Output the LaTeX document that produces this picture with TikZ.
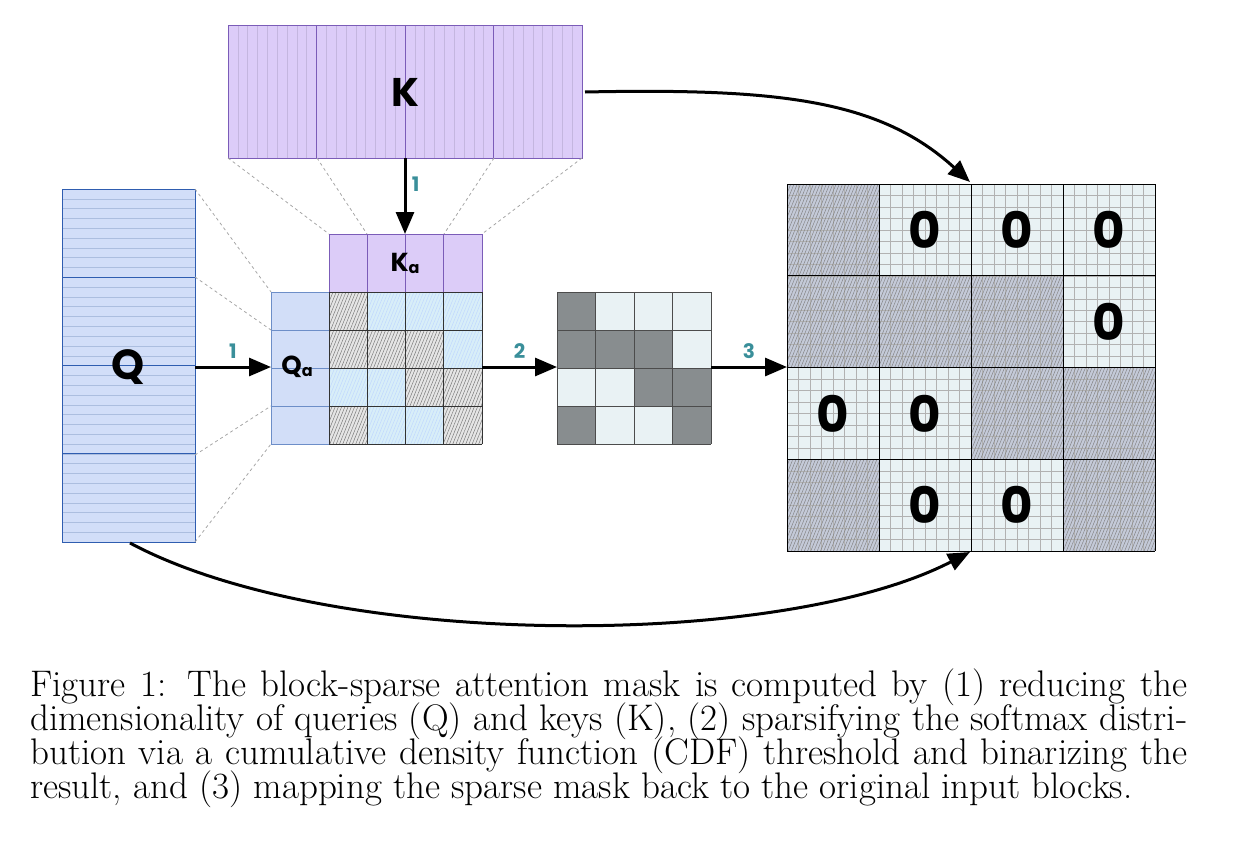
\documentclass[tikz,border=0pt]{standalone}
\usepackage{fontspec}
\newfontfamily\pop{Poppins}
\usetikzlibrary{patterns.meta,arrows.meta}
\definecolor{kfill}{HTML}{DCCCF8}
\definecolor{kline}{HTML}{7B5CB8}
\definecolor{qfill}{HTML}{D2DEF8}
\definecolor{qline}{HTML}{2F5DB0}
\definecolor{lblue}{HTML}{D8EEF8}
\definecolor{dgray}{HTML}{888D8F}
\definecolor{lgray}{HTML}{E9F2F4}
\definecolor{teal}{HTML}{3A8F9A}
\definecolor{dblue}{HTML}{C4CAD8}
\tikzset{
 hatch/.style={pattern={Lines[angle=68,distance=3pt,line width=0.45pt]},pattern color=#1},
 big/.style={-{Triangle[length=22pt,width=18pt]},line width=3pt},
 num/.style={text=teal,font=\pop\bfseries\fontsize{20}{20}\selectfont},
 proj/.style={gray!70,dashed,line width=0.8pt},
 zero/.style={font=\pop\bfseries\fontsize{50}{50}\selectfont}
}
\begin{document}
\begin{tikzpicture}[x=1pt,y=-1pt]
\useasboundingbox (0,0) rectangle (1234,844);
% K
\fill[kfill] (228,25) rectangle (582,158);
\foreach \i in {0,...,35}{\draw[kline!45,line width=0.4pt] ({228+\i*354/36},25) -- ({228+\i*354/36},158);}
\foreach \i in {0,...,4}{\draw[kline,line width=1pt] ({228+\i*88.5},25) -- ({228+\i*88.5},158);}
\draw[kline,line width=1pt] (228,25) rectangle (582,158);
\node[font=\pop\bfseries\fontsize{40}{40}\selectfont] (K) at (405,92) {K};
\coordinate (Kb) at (405,158);
% Q
\fill[qfill] (62,189) rectangle (195,542);
\foreach \i in {0,...,35}{\draw[qline!40,line width=0.4pt] (62,{189+\i*353/36}) -- (195,{189+\i*353/36});}
\foreach \i in {0,...,4}{\draw[qline,line width=1pt] (62,{189+\i*88.25}) -- (195,{189+\i*88.25});}
\draw[qline,line width=1pt] (62,189) rectangle (195,542);
\node[font=\pop\bfseries\fontsize{42}{42}\selectfont] (Q) at (128,367) {Q};
% dashed projections
\draw[proj] (228,158) -- (329,234);
\draw[proj] (317,158) -- (367,234);
\draw[proj] (494,158) -- (444,234);
\draw[proj] (582,158) -- (482,234);
\draw[proj] (195,189) -- (271,292);
\draw[proj] (195,277) -- (271,330);
\draw[proj] (195,455) -- (271,406);
\draw[proj] (195,542) -- (271,444);
% Ka, Qa
\filldraw[fill=kfill,draw=kline,line width=0.8pt] (329,234) rectangle (482,292);
\foreach \i in {1,2,3}{\draw[kline,line width=0.8pt] ({329+\i*38.25},234) -- ({329+\i*38.25},292);}
\node[font=\pop\bfseries\fontsize{26}{26}\selectfont] (Ka) at (405,263) {K\raisebox{-2pt}{\fontsize{16}{16}\selectfont a}};
\filldraw[fill=qfill,draw=qline!70,line width=0.8pt] (271,292) rectangle (329,444);
\foreach \i in {1,2,3}{\draw[qline!70,line width=0.8pt] (271,{292+\i*38}) -- (329,{292+\i*38});}
\node[font=\pop\bfseries\fontsize{26}{26}\selectfont] (Qa) at (297,367) {Q\raisebox{-2pt}{\fontsize{16}{16}\selectfont a}};
% attention & binary matrices
\foreach \r/\row in {0/{1,0,0,0},1/{1,1,1,0},2/{0,0,1,1},3/{1,0,0,1}}{
 \foreach \v [count=\c from 0] in \row {
  \pgfmathsetmacro\xa{329+\c*38.25}\pgfmathsetmacro\ya{292+\r*38}
  \pgfmathsetmacro\xb{557+\c*38.5}
  \pgfmathsetmacro\xc{787+\c*92}\pgfmathsetmacro\yc{184+\r*91.75}
  \ifnum\v=1
   \fill[gray!20] (\xa,\ya) rectangle ++(38.25,38);
   \fill[hatch=black!55] (\xa,\ya) rectangle ++(38.25,38);
   \fill[dgray] (\xb,\ya) rectangle ++(38.5,38);
   \fill[dblue] (\xc,\yc) rectangle ++(92,91.75);
  \else
   \fill[lblue] (\xa,\ya) rectangle ++(38.25,38);
   \fill[hatch=cyan!35!blue!25] (\xa,\ya) rectangle ++(38.25,38);
   \fill[lgray] (\xb,\ya) rectangle ++(38.5,38);
   \fill[lgray] (\xc,\yc) rectangle ++(92,91.75);
  \fi
 }}
\foreach \i in {0,...,4}{
 \draw[black!80,line width=0.8pt] ({329+\i*38.25},292) -- ({329+\i*38.25},444);
 \draw[black!80,line width=0.8pt] (329,{292+\i*38}) -- (482,{292+\i*38});
 \draw[black!70,line width=0.8pt] ({557+\i*38.5},292) -- ({557+\i*38.5},444);
 \draw[black!70,line width=0.8pt] (557,{292+\i*38}) -- (711,{292+\i*38});}
% big matrix fine grid
\foreach \i in {0,...,32}{
 \draw[gray!60,line width=0.4pt] ({787+\i*11.5},184) -- ({787+\i*11.5},551);
 \draw[gray!60,line width=0.4pt] (787,{184+\i*11.47}) -- (1155,{184+\i*11.47});}
\foreach \r/\row in {0/{1,0,0,0},1/{1,1,1,0},2/{0,0,1,1},3/{1,0,0,1}}{
 \foreach \v [count=\c from 0] in \row {
  \pgfmathsetmacro\xc{787+\c*92}\pgfmathsetmacro\yc{184+\r*91.75}
  \ifnum\v=1
   \fill[hatch=black!50] (\xc,\yc) rectangle ++(92,91.75);
  \else
   \node[zero] at ({\xc+46},{\yc+46}) {0};
  \fi}}
\foreach \i in {0,...,4}{
 \draw[black,line width=1pt] ({787+\i*92},184) -- ({787+\i*92},551);
 \draw[black,line width=1pt] (787,{184+\i*91.75}) -- (1155,{184+\i*91.75});}
\coordinate (Ain) at (557,367);
\coordinate (Bin) at (787,367);
\coordinate (Bout) at (711,367);
\coordinate (Aout) at (482,367);
\coordinate (Qr) at (195,367);
\coordinate (Qal) at (271,367);
\coordinate (Kat) at (405,234);
\coordinate (Qb) at (130,543);
\coordinate (Kr) at (585,92);
\coordinate (Mt) at (970,182);
\coordinate (Mb) at (970,552);
% arrows
\draw[big] (Kb) -- (Kat) node[num,pos=0.35,right=2pt] {1};
\draw[big] (Qr) -- (Qal) node[num,midway,above=4pt] {1};
\draw[big] (Aout) -- (Ain) node[num,midway,above=4pt] {2};
\draw[big] (Bout) -- (Bin) node[num,midway,above=4pt] {3};
\draw[big] (Kr) .. controls (780,88) and (880,100) .. (Mt);
\draw[big] (Qb) .. controls (330,650) and (780,650) .. (Mb);
% caption
\begin{scope}[font=\fontsize{37}{33}\selectfont]
\node[anchor=base west,inner sep=0] (c1) at (30,696) {\makebox[1157pt][s]{Figure 1: The block-sparse attention mask is computed by (1) reducing the}};
\node[anchor=base west,inner sep=0] (c2) at (30,730) {\makebox[1157pt][s]{dimensionality of queries (Q) and keys (K), (2) sparsifying the softmax distri-}};
\node[anchor=base west,inner sep=0] (c3) at (30,764) {\makebox[1157pt][s]{bution via a cumulative density function (CDF) threshold and binarizing the}};
\node[anchor=base west,inner sep=0] (c4) at (30,798) {result, and (3) mapping the sparse mask back to the original input blocks.};
\end{scope}
\end{tikzpicture}
\end{document}
